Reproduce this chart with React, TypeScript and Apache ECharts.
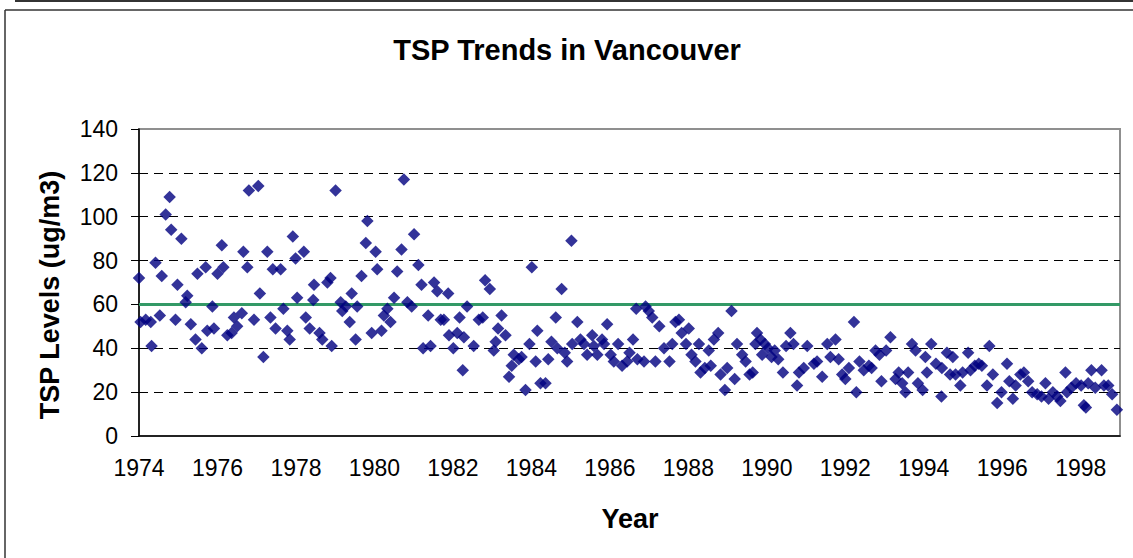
import React, { useEffect, useRef } from "react";
import * as echarts from "echarts";

// TSP readings: [year (decimal), TSP level ug/m3]
const tsp1974to1978: [number, number][] = [
  [1974.0, 72], [1974.04, 52], [1974.17, 53], [1974.3, 52], [1974.32, 41], [1974.42, 79],
  [1974.53, 55], [1974.58, 73], [1974.68, 101], [1974.78, 109], [1974.82, 94], [1974.93, 53],
  [1974.98, 69], [1975.08, 90], [1975.19, 61], [1975.23, 64], [1975.32, 51], [1975.44, 44],
  [1975.49, 74], [1975.6, 40], [1975.7, 77], [1975.74, 48], [1975.87, 59], [1975.91, 49],
  [1976.0, 74], [1976.11, 87], [1976.15, 77], [1976.25, 46], [1976.36, 47], [1976.42, 54],
  [1976.5, 50], [1976.62, 56], [1976.66, 84], [1976.76, 77], [1976.8, 112], [1976.93, 53],
  [1977.04, 114], [1977.08, 65], [1977.17, 36], [1977.27, 84], [1977.35, 54], [1977.41, 76],
  [1977.48, 49], [1977.61, 76], [1977.68, 58], [1977.78, 48], [1977.84, 44], [1977.92, 91],
  [1977.99, 81],
];

const tsp1978to1982: [number, number][] = [
  [1978.03, 63], [1978.2, 84], [1978.25, 54], [1978.35, 49], [1978.46, 69], [1978.44, 62],
  [1978.6, 47], [1978.67, 44], [1978.8, 70], [1978.88, 72], [1978.91, 41], [1979.01, 112],
  [1979.14, 61], [1979.18, 57], [1979.27, 59], [1979.37, 52], [1979.42, 65], [1979.52, 44],
  [1979.56, 59], [1979.67, 73], [1979.78, 88], [1979.82, 98], [1979.93, 47], [1980.03, 84],
  [1980.07, 76], [1980.18, 48], [1980.24, 55], [1980.33, 58], [1980.41, 52], [1980.5, 63],
  [1980.58, 75], [1980.69, 85], [1980.75, 117], [1980.84, 61], [1980.95, 59], [1981.01, 92],
  [1981.12, 78], [1981.2, 69], [1981.24, 40], [1981.37, 55], [1981.43, 41], [1981.52, 70],
  [1981.6, 66], [1981.69, 53], [1981.77, 53], [1981.88, 65], [1981.9, 46],
];

const tsp1982to1986: [number, number][] = [
  [1982.01, 40], [1982.11, 47], [1982.17, 54], [1982.25, 30], [1982.28, 45], [1982.36, 59],
  [1982.53, 41], [1982.66, 53], [1982.76, 54], [1982.82, 71], [1982.94, 67], [1983.04, 39],
  [1983.09, 43], [1983.15, 49], [1983.24, 55], [1983.34, 46], [1983.43, 27], [1983.5, 32],
  [1983.55, 37], [1983.68, 35], [1983.75, 36], [1983.85, 21], [1983.95, 42], [1984.01, 77],
  [1984.11, 34], [1984.15, 48], [1984.23, 24], [1984.36, 24], [1984.43, 35], [1984.51, 43],
  [1984.62, 54], [1984.66, 40], [1984.77, 67], [1984.85, 38], [1984.91, 34], [1985.02, 89],
  [1985.04, 42], [1985.17, 52], [1985.25, 44], [1985.34, 42], [1985.42, 37], [1985.55, 46],
  [1985.59, 41], [1985.68, 37], [1985.8, 44], [1985.85, 42], [1985.93, 51],
];

const tsp1986to1990: [number, number][] = [
  [1986.02, 37], [1986.1, 34], [1986.21, 42], [1986.31, 32], [1986.44, 34], [1986.5, 38],
  [1986.59, 44], [1986.67, 58], [1986.7, 35], [1986.87, 34], [1986.91, 59], [1986.99, 57],
  [1987.08, 54], [1987.16, 34], [1987.26, 50], [1987.38, 40], [1987.52, 34], [1987.59, 42],
  [1987.67, 52], [1987.76, 53], [1987.83, 47], [1987.94, 42], [1988.01, 49], [1988.08, 37],
  [1988.18, 34], [1988.27, 42], [1988.31, 29], [1988.42, 31], [1988.52, 39], [1988.57, 32],
  [1988.65, 44], [1988.76, 47], [1988.82, 28], [1988.93, 21], [1988.99, 31], [1989.1, 57],
  [1989.18, 26], [1989.24, 42], [1989.37, 37], [1989.46, 34], [1989.56, 28], [1989.64, 29],
  [1989.71, 42], [1989.75, 47], [1989.84, 44], [1989.88, 37], [1989.95, 42],
];

const tsp1990to1994: [number, number][] = [
  [1990.03, 40], [1990.12, 36], [1990.2, 39], [1990.29, 35], [1990.41, 29], [1990.49, 41],
  [1990.6, 47], [1990.68, 42], [1990.77, 23], [1990.82, 29], [1990.94, 31], [1991.03, 41],
  [1991.2, 33], [1991.28, 34], [1991.41, 27], [1991.54, 42], [1991.62, 36], [1991.75, 44],
  [1991.83, 35], [1991.92, 28], [1992.0, 26], [1992.09, 31], [1992.22, 52], [1992.28, 20],
  [1992.36, 34], [1992.47, 30], [1992.6, 32], [1992.67, 31], [1992.77, 39], [1992.87, 37],
  [1992.92, 25], [1993.04, 39], [1993.15, 45], [1993.28, 26], [1993.36, 29], [1993.45, 24],
  [1993.53, 20], [1993.6, 29], [1993.7, 42], [1993.79, 39], [1993.85, 24], [1993.97, 21],
];

const tsp1994to1999: [number, number][] = [
  [1994.04, 36], [1994.08, 29], [1994.19, 42], [1994.31, 33], [1994.45, 18], [1994.46, 31],
  [1994.59, 38], [1994.67, 28], [1994.74, 36], [1994.81, 28], [1994.93, 23], [1994.99, 29],
  [1995.13, 38], [1995.19, 30], [1995.3, 32], [1995.4, 33], [1995.48, 32], [1995.61, 23],
  [1995.67, 41], [1995.76, 28], [1995.87, 15], [1995.98, 20], [1996.12, 33], [1996.18, 25],
  [1996.27, 17], [1996.34, 23], [1996.46, 28], [1996.55, 29], [1996.66, 25], [1996.76, 20],
  [1996.89, 19], [1997.0, 18], [1997.1, 24], [1997.18, 17], [1997.29, 20], [1997.4, 18],
  [1997.48, 16], [1997.61, 29], [1997.65, 20], [1997.76, 22], [1997.88, 24], [1998.01, 23],
  [1998.08, 14], [1998.13, 13], [1998.19, 24], [1998.27, 30], [1998.37, 22], [1998.53, 30],
  [1998.59, 23], [1998.7, 23], [1998.8, 19], [1998.92, 12],
];

const objectiveLevel = 60;
const yTicks = [0, 20, 40, 60, 80, 100, 120, 140];
const xRange = [1974, 1999];

const titleText = "TSP Trends in Vancouver";
const yAxisTitle = "TSP Levels (ug/m3)";
const xAxisTitle = "Year";

export default function App() {
  const ref = useRef<HTMLDivElement>(null);

  useEffect(() => {
    if (!ref.current) return;
    const chart = echarts.init(ref.current, undefined, { renderer: "svg" });
    const allPoints = [
      ...tsp1974to1978,
      ...tsp1978to1982,
      ...tsp1982to1986,
      ...tsp1986to1990,
      ...tsp1990to1994,
      ...tsp1994to1999,
    ];
    const font = "'Liberation Sans', Arial, sans-serif";
    const splitColors = yTicks.map((t, i) =>
      i === 0 || i === yTicks.length - 1 ? "transparent" : "#000000"
    );

    chart.setOption({
      animation: false,
      backgroundColor: "#ffffff",
      textStyle: { fontFamily: font },
      grid: {
        left: 139,
        top: 129,
        right: 13,
        bottom: 122,
        show: true,
        borderColor: "#8f8f8f",
        borderWidth: 2,
        backgroundColor: "transparent",
      },
      xAxis: {
        type: "value",
        min: xRange[0],
        max: xRange[1],
        interval: 2,
        axisLine: { show: true, onZero: false, lineStyle: { color: "#000", width: 1.5 } },
        axisTick: { show: false },
        splitLine: { show: false },
        axisLabel: {
          color: "#000",
          fontSize: 23,
          fontFamily: font,
          margin: 20,
          formatter: (v: number) => (v % 2 === 0 ? String(v) : ""),
        },
      },
      yAxis: {
        type: "value",
        min: yTicks[0],
        max: yTicks[yTicks.length - 1],
        interval: 20,
        axisLine: { show: true, lineStyle: { color: "#000", width: 1.5 } },
        axisTick: { show: true, inside: false, length: 8, lineStyle: { color: "#000", width: 1 } },
        splitLine: {
          show: true,
          lineStyle: { color: splitColors, type: [9, 6], width: 1 },
        },
        axisLabel: { color: "#000", fontSize: 23, fontFamily: font, margin: 21 },
      },
      graphic: [
        { type: "line", shape: { x1: 15, y1: 1, x2: 1133, y2: 1 }, style: { stroke: "#333", lineWidth: 2 } },
        { type: "line", shape: { x1: 5, y1: 10, x2: 1133, y2: 10 }, style: { stroke: "#333", lineWidth: 1.5 } },
        { type: "line", shape: { x1: 5, y1: 10, x2: 5, y2: 558 }, style: { stroke: "#333", lineWidth: 1.5 } },
        {
          type: "text",
          x: 567,
          y: 50,
          style: {
            text: titleText,
            fontSize: 29,
            fontWeight: "bold",
            fontFamily: font,
            fill: "#000",
            align: "center",
            verticalAlign: "middle",
          },
        },
        {
          type: "text",
          x: 50,
          y: 295,
          rotation: Math.PI / 2,
          style: {
            text: yAxisTitle,
            fontSize: 27,
            fontWeight: "bold",
            fontFamily: font,
            fill: "#000",
            align: "center",
            verticalAlign: "middle",
          },
        },
        {
          type: "text",
          x: 630,
          y: 519,
          style: {
            text: xAxisTitle,
            fontSize: 27,
            fontWeight: "bold",
            fontFamily: font,
            fill: "#000",
            align: "center",
            verticalAlign: "middle",
          },
        },
      ],
      series: [
        {
          type: "scatter",
          data: allPoints,
          symbol: "diamond",
          symbolSize: 12.5,
          itemStyle: { color: "#000080" },
          z: 3,
          markLine: {
            silent: true,
            symbol: ["none", "none"],
            label: { show: false },
            lineStyle: { color: "#339966", width: 3, type: "solid" },
            data: [{ yAxis: objectiveLevel }],
            z: 2,
          },
        },
      ],
    });
    return () => chart.dispose();
  }, []);

  return (
    <div
      ref={ref}
      style={{ position: "absolute", left: 0, top: 0, width: 1133, height: 558, background: "#fff" }}
    />
  );
}
